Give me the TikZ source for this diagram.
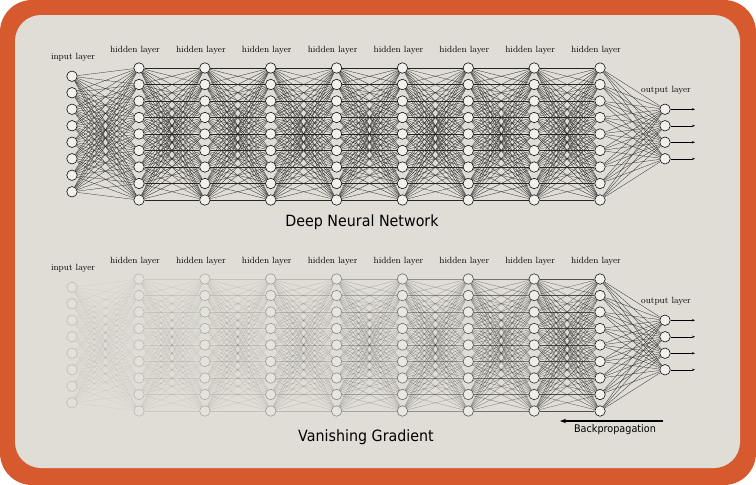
\documentclass[tikz,border=0pt]{standalone}
\usepackage{fontspec}
\newfontfamily\titlefont[FakeStretch=0.92]{DejaVu Sans}
\usetikzlibrary{arrows.meta}
\definecolor{frame}{HTML}{D65A2E}
\definecolor{panel}{HTML}{DFDDD5}
\pgfdeclarelayer{bg}
\pgfdeclarelayer{edges}
\pgfsetlayers{bg,edges,main}
\tikzset{
  neuron/.style={circle,line width=0.55pt,minimum size=10.5pt,inner sep=0pt},
  synapse/.style={line width=0.28pt,draw=black!85},
  layerlabel/.style={font=\fontsize{9}{10}\selectfont,inner sep=0pt},
  titletext/.style={font=\titlefont\fontsize{15.5}{18}\selectfont,inner sep=0pt},
  outarrow/.style={line width=0.4pt,-{Stealth[length=3pt,width=2.2pt]}},
  backarrow/.style={line width=1.1pt,-{Stealth[length=6pt,width=4.5pt]}}
}
% #1 prefix, #2 y centre, #3 layer/node strength list, #4 layer/edge strength list
\newcommand{\mynet}[4]{%
  \foreach \L/\op in {#3}{%
    \pgfmathsetmacro\lx{ifthenelse(\L==0,72,ifthenelse(\L==9,665,139+65.86*(\L-1)))}%
    \pgfmathtruncatemacro\ln{ifthenelse(\L==0,8,ifthenelse(\L==9,4,9))}%
    \pgfmathtruncatemacro\dk{100*\op}%
    \pgfmathtruncatemacro\wk{55*\op}%
    \foreach \i in {1,...,\ln}{%
      \node[neuron,draw=black!\dk!panel,fill=white!\wk!panel] (#1-\L-\i)
        at (\lx,{#2+(\i-(\ln+1)/2)*16.5}) {};
    }%
  }%
  \begin{pgfonlayer}{edges}
  \foreach \L/\eo in {#4}{%
    \pgfmathtruncatemacro\M{\L+1}%
    \pgfmathtruncatemacro\ln{ifthenelse(\L==0,8,9)}%
    \pgfmathtruncatemacro\mn{ifthenelse(\M==9,4,9)}%
    \foreach \i in {1,...,\ln}{%
      \foreach \j in {1,...,\mn}{%
        \draw[synapse,draw opacity=\eo] (#1-\L-\i) -- (#1-\M-\j);
      }%
    }%
  }%
  \end{pgfonlayer}
  \foreach \i in {1,...,4}{%
    \coordinate (#1-o\i) at (695,{#2+(\i-2.5)*16.5});
    \draw[outarrow] (#1-9-\i) -- (#1-o\i);
  }%
  \node[layerlabel] (#1-lin) at (73,{#2-77}) {input layer};
  \foreach \L in {1,...,8}{%
    \pgfmathsetmacro\lx{139+65.86*(\L-1)-4}%
    \node[layerlabel] (#1-lh\L) at (\lx,{#2-84}) {hidden layer};
  }%
  \node[layerlabel] (#1-lout) at (666,{#2-44}) {output layer};
}
\begin{document}
\begin{tikzpicture}[x=1pt,y=-1pt]
\useasboundingbox (0,0) rectangle (756,485);
\begin{pgfonlayer}{bg}
\fill[frame,rounded corners=32pt] (0,0) rectangle (756,485);
\fill[panel,rounded corners=26pt] (15,15) rectangle (740,468);
\end{pgfonlayer}
\mynet{t}{134}{0/1,1/1,2/1,3/1,4/1,5/1,6/1,7/1,8/1,9/1}{0/1,1/1,2/1,3/1,4/1,5/1,6/1,7/1,8/1}
\mynet{b}{345}{0/0.16,1/0.2,2/0.26,3/0.33,4/0.43,5/0.56,6/0.7,7/0.85,8/1,9/1}{0/0.09,1/0.11,2/0.15,3/0.21,4/0.3,5/0.42,6/0.58,7/0.78,8/1}
\node[titletext] (dnn) at (362,222) {Deep Neural Network};
\node[titletext] (vg) at (366,437) {Vanishing Gradient};
\node[font=\titlefont\fontsize{10.5}{12}\selectfont,inner sep=0pt] (bp) at (615,430) {Backpropagation};
\coordinate (bpstart) at (663,421);
\coordinate (bpend) at (560,421);
\draw[backarrow] (bpstart) -- (bpend);
\end{tikzpicture}
\end{document}
